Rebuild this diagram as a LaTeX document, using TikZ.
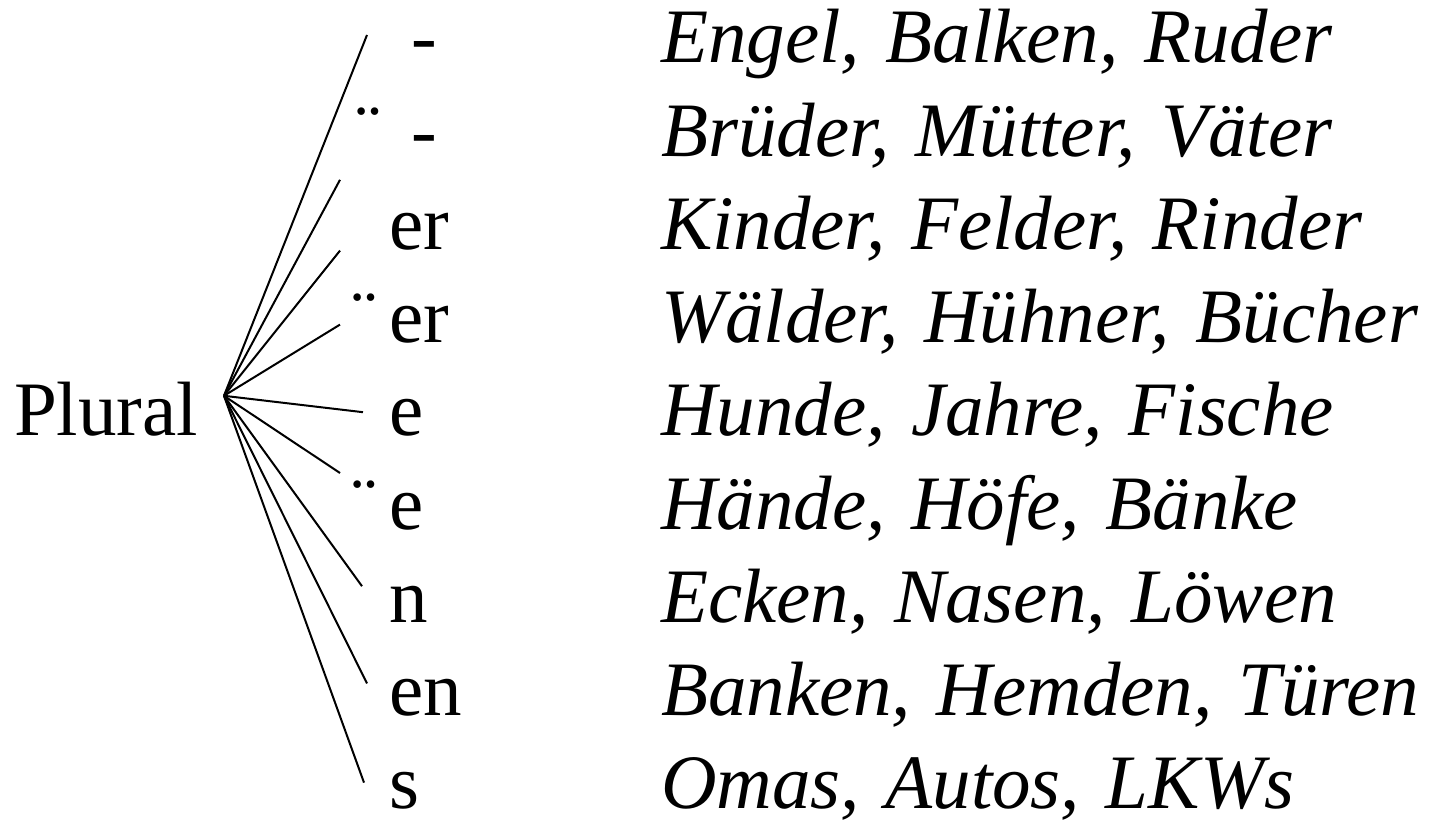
\documentclass[tikz,border=0pt]{standalone}
\usepackage{fontspec}
\setmainfont{Liberation Serif}
\usetikzlibrary{positioning}
\begin{document}
\begin{tikzpicture}[txt/.style={inner sep=0pt,font=\fontsize{38.5pt}{46pt}\selectfont,text height=28pt,text depth=8pt},suf/.style={txt,text width=60pt,align=left},words/.style={txt,text width=396pt,align=left,font=\fontsize{38.5pt}{46pt}\selectfont\itshape},node distance=46.6pt,on grid,line width=1pt]
                \useasboundingbox (0,0) rectangle (726pt,-417pt);
                \node[suf,anchor=base west](s1) at (194pt,-31.5pt){\kern.29em-};
                \node[suf](s2)[below=of s1]{\llap{¨\kern.1em}\kern.29em-};
                \node[suf](s3)[below=of s2]{er};
                \node[suf](s4)[below=of s3]{\llap{¨\kern.16em}er};
                \node[suf](s5)[below=of s4]{e};
                \node[suf](s6)[below=of s5]{\llap{¨\kern.16em}e};
                \node[suf](s7)[below=of s6]{n};
                \node[suf](s8)[below=of s7]{en};
                \node[suf](s9)[below=of s8]{s};
                \node[txt](pl)[left=171.5pt of s5]{Plural};
                \coordinate(fork) at ([xshift=12.5pt,yshift=20pt]pl.base east);
                \node[words](w1)[right=304pt of s1]{Engel, Balken, Ruder};
                \node[words](w2)[right=304pt of s2]{Brüder, Mütter, Väter};
                \node[words](w3)[right=304pt of s3]{Kinder, Felder, Rinder};
                \node[words](w4)[right=304pt of s4]{Wälder, Hühner, Bücher};
                \node[words](w5)[right=304pt of s5]{Hunde, Jahre, Fische};
                \node[words](w6)[right=304pt of s6]{Hände, Höfe, Bänke};
                \node[words](w7)[right=304pt of s7]{Ecken, Nasen, Löwen};
                \node[words](w8)[right=304pt of s8]{Banken, Hemden, Türen};
                \node[words](w9)[right=304pt of s9]{Omas, Autos, LKWs};
                \draw(fork) -- ([xshift=-10.5pt,yshift=14pt]s1.base west);
                \draw(fork) -- ([xshift=-24pt,yshift=-11.8pt]s2.base west);
                \draw(fork) -- ([xshift=-24pt,yshift=-0.6pt]s3.base west);
                \draw(fork) -- ([xshift=-24pt,yshift=9pt]s4.base west);
                \draw(fork) -- ([xshift=-12.5pt,yshift=11.8pt]s5.base west);
                \draw(fork) -- ([xshift=-24pt,yshift=28pt]s6.base west);
                \draw(fork) -- ([xshift=-13pt,yshift=18pt]s7.base west);
                \draw(fork) -- ([xshift=-10.5pt,yshift=16pt]s8.base west);
                \draw(fork) -- ([xshift=-12pt,yshift=13pt]s9.base west);
            \end{tikzpicture}
\end{document}
